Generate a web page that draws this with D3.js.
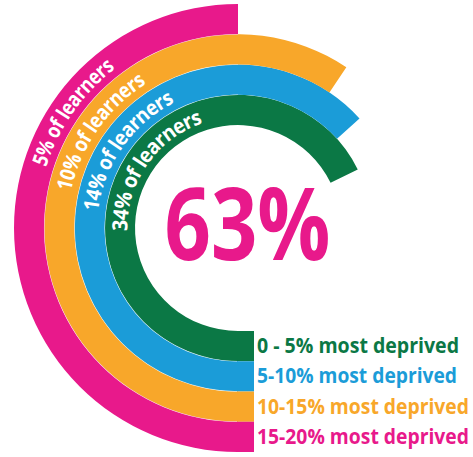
<!DOCTYPE html>
<html>
<head>
<meta charset="utf-8">
<script src="https://cdn.jsdelivr.net/npm/d3@7"></script>
<style>
  body { margin: 0; background: #fff; }
  text { font-family: "Open Sans", sans-serif; font-weight: bold; }
</style>
</head>
<body>
<svg id="chart"></svg>
<script>
// Radial bars: deprivation groups, innermost first
const groups = ["0 - 5% most deprived", "5-10% most deprived", "10-15% most deprived", "15-20% most deprived"];
const learnerShares = ["34%", "14%", "10%", "5%"];
const sweepDegrees = [244, 228, 214, 180];
const colors = ["#0b7845", "#1b9cd8", "#f8a72a", "#e8198b"];
const headline = "63%";

const width = 473, height = 457;
const cx = 238, cy = 228;
const legendEdge = 254;
const legendWidths = [202, 200, 212, 212];
const labelWidths = [150, 146, 141, 127];

const svg = d3.select("#chart")
    .attr("width", width)
    .attr("height", height);

const rows = groups.map((g, i) => ({
    group: g,
    share: learnerShares[i],
    sweep: sweepDegrees[i],
    color: colors[i],
    textW: legendWidths[i],
    labelW: labelWidths[i]
}));

const radius = d3.scaleBand()
    .domain(groups)
    .range([103, 224])
    .padding(0);

// degrees from the 6 o'clock position, going clockwise
const angle = d3.scaleLinear()
    .domain([0, 360])
    .range([Math.PI, 3 * Math.PI]);

const arc = d3.arc()
    .innerRadius(d => radius(d.group))
    .outerRadius(d => radius(d.group) + radius.bandwidth())
    .startAngle(angle(0))
    .endAngle(d => angle(d.sweep));

const g = svg.append("g").attr("transform", `translate(${cx},${cy})`);

g.selectAll("path.band")
    .data(rows)
    .enter()
    .append("path")
    .attr("class", "band")
    .attr("d", arc)
    .style("fill", d => d.color);

// faint seams between the rings
g.selectAll("path.seam")
    .data(rows.slice(1))
    .enter()
    .append("path")
    .attr("class", "seam")
    .attr("d", d => d3.arc()
        .innerRadius(radius(d.group) - 0.3)
        .outerRadius(radius(d.group) + 0.3)
        .startAngle(angle(0))
        .endAngle(angle(180))())
    .style("fill", "#fff")
    .style("opacity", 0.7);

// little blocks at the bottom that lead into the legend
g.selectAll("rect.tab")
    .data(rows)
    .enter()
    .append("rect")
    .attr("class", "tab")
    .attr("x", -1)
    .attr("y", d => radius(d.group))
    .attr("width", legendEdge - cx + 1)
    .attr("height", radius.bandwidth())
    .style("fill", d => d.color);

// legend text
svg.selectAll("text.legend")
    .data(rows)
    .enter()
    .append("text")
    .attr("class", "legend")
    .attr("x", legendEdge + 3)
    .attr("y", d => cy + radius(d.group) + radius.bandwidth() / 2 + 7)
    .attr("textLength", d => d.textW)
    .attr("lengthAdjust", "spacingAndGlyphs")
    .style("font-size", "22px")
    .style("fill", d => d.color)
    .text(d => d.group);

// curved labels inside each band
const labelFrom = 230, labelTo = 380, labelAt = 305;
function circlePath(r) {
    const a0 = angle(labelFrom - 180), a1 = angle(labelTo - 180);
    const p = a => [r * Math.sin(a), -r * Math.cos(a)];
    const s = p(a0), e = p(a1);
    return `M${s[0]},${s[1]} A${r},${r} 0 0 1 ${e[0]},${e[1]}`;
}

g.selectAll("path.guide")
    .data(rows)
    .enter()
    .append("path")
    .attr("class", "guide")
    .attr("id", (d, i) => "guide" + i)
    .attr("d", d => circlePath(radius(d.group) + radius.bandwidth() / 2))
    .style("fill", "none");

g.selectAll("text.share")
    .data(rows)
    .enter()
    .append("text")
    .attr("class", "share")
    .attr("dy", "0.36em")
    .style("font-size", "21px")
    .style("fill", "#fff")
    .append("textPath")
    .attr("href", (d, i) => "#guide" + i)
    .attr("startOffset", ((labelAt - labelFrom) / (labelTo - labelFrom) * 100) + "%")
    .attr("textLength", d => d.labelW)
    .attr("lengthAdjust", "spacingAndGlyphs")
    .style("text-anchor", "middle")
    .text(d => `${d.share} of learners`);

// big number in the middle
svg.append("text")
    .attr("x", 247.5)
    .attr("y", 260)
    .attr("text-anchor", "middle")
    .attr("textLength", 166)
    .attr("lengthAdjust", "spacingAndGlyphs")
    .style("font-size", "100px")
    .style("fill", colors[3])
    .text(headline);
</script>
</body>
</html>
